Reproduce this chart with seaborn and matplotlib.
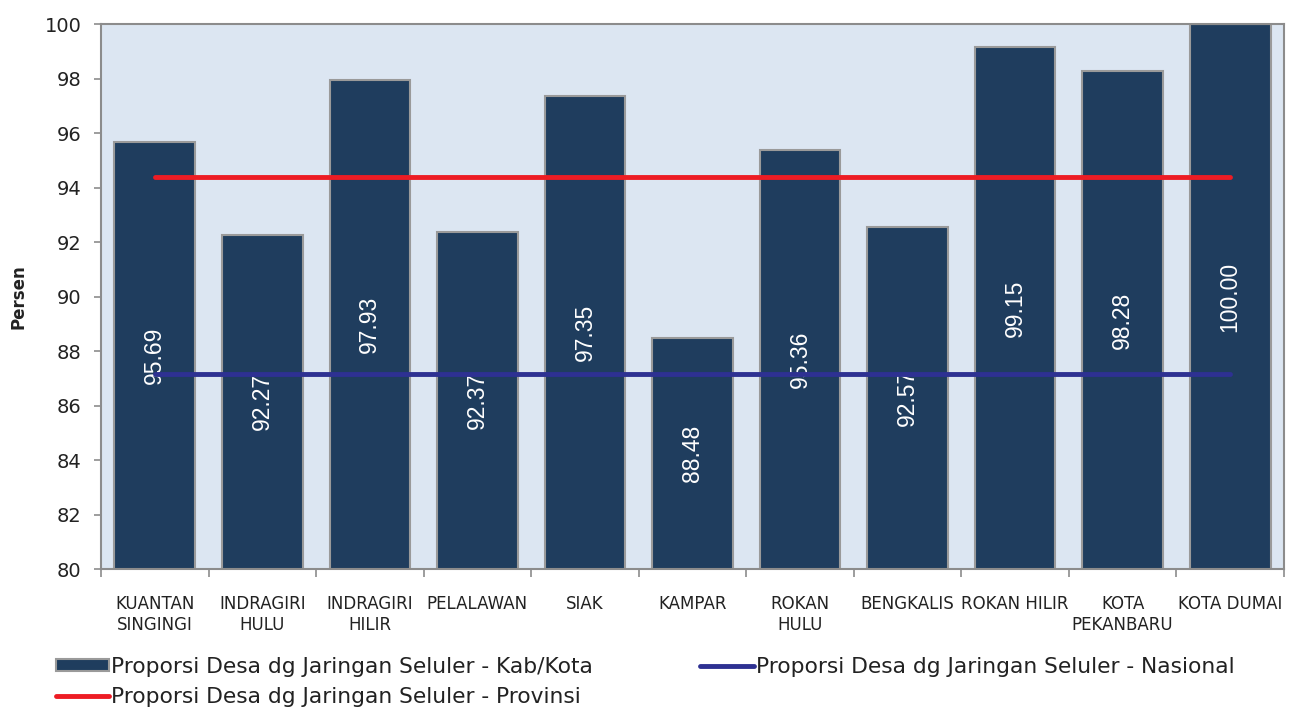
import matplotlib
matplotlib.use("Agg")
import matplotlib.pyplot as plt
import seaborn as sns
import numpy as np
import pandas as pd
from matplotlib.patches import Patch
from matplotlib.lines import Line2D

categories = ["KUANTAN\nSINGINGI", "INDRAGIRI\nHULU", "INDRAGIRI\nHILIR", "PELALAWAN",
              "SIAK", "KAMPAR", "ROKAN\nHULU", "BENGKALIS", "ROKAN HILIR",
              "KOTA\nPEKANBARU", "KOTA DUMAI"]
values = [95.69, 92.27, 97.93, 92.37, 97.35, 88.48, 95.36, 92.57, 99.15, 98.28, 100.00]
provinsi = 94.39
nasional = 87.14
yticks = [80, 82, 84, 86, 88, 90, 92, 94, 96, 98, 100]

label_bar = "Proporsi Desa dg Jaringan Seluler - Kab/Kota"
label_prov = "Proporsi Desa dg Jaringan Seluler - Provinsi"
label_nas = "Proporsi Desa dg Jaringan Seluler - Nasional"

sns.set_theme(style="white")
plt.rcParams["font.family"] = ["DejaVu Sans"]

BAR = "#1F3D5E"
EDGE = "#9A9A9A"
BG = "#DCE6F2"
RED = "#ED1C24"
BLUE = "#2E3192"
TXT = "#222222"

fig = plt.figure(figsize=(12.98, 7.08), dpi=100)
ax = fig.add_axes([0.0778, 0.1963, 0.9114, 0.7697])
ax.set_facecolor(BG)

df = pd.DataFrame({"cat": categories, "val": values})
sns.barplot(data=df, x="cat", y="val", color=BAR, saturation=1, width=0.75,
            edgecolor=EDGE, linewidth=1.5, ax=ax, zorder=2)

xs = np.arange(len(categories))
ax.set_ylim(80, 100)
ax.set_xlim(-0.5, len(categories) - 0.5)

for i, v in enumerate(values):
    ax.text(i, (80 + v) / 2, f"{v:.2f}", rotation=90, ha="center", va="center",
            color="white", fontsize=16.5, family=["Liberation Sans", "DejaVu Sans"],
            zorder=3)

ax.plot(xs, [provinsi] * len(xs), color=RED, lw=3.5, solid_capstyle="round", zorder=4)
ax.plot(xs, [nasional] * len(xs), color=BLUE, lw=3.5, solid_capstyle="round", zorder=4)

for s in ax.spines.values():
    s.set_color("#8C8C8C")
    s.set_linewidth(1.5)
    s.set_visible(True)

ax.set_yticks(yticks)
ax.set_yticklabels([str(t) for t in yticks], fontsize=14, color=TXT)
ax.tick_params(axis="y", which="major", direction="out", length=5, width=1.2,
               color="#8C8C8C", pad=9, left=True)

ax.set_xticks(np.arange(-0.5, len(categories), 1.0))
ax.set_xticklabels([])
ax.set_xticks(xs, minor=True)
ax.set_xticklabels(categories, minor=True, fontsize=12, color=TXT, linespacing=1.2)
ax.tick_params(axis="x", which="major", direction="out", length=6, width=1.2,
               color="#8C8C8C", bottom=True)
ax.tick_params(axis="x", which="minor", length=0, pad=19, bottom=True)

ax.set_xlabel("")
ax.set_ylabel("Persen", fontsize=12, fontweight="bold", color=TXT, labelpad=12)

handles = [
    Patch(facecolor=BAR, edgecolor=EDGE, linewidth=1.5),
    Line2D([0], [0], color=RED, lw=3.5, solid_capstyle="round"),
    Line2D([0], [0], color=BLUE, lw=3.5, solid_capstyle="round"),
]
labels = [label_bar, label_prov, label_nas]
fig.legend(handles, labels, loc="upper left", bbox_to_anchor=(0.043, 0.072),
           ncol=2, frameon=False, fontsize=15.7, handlelength=2.45, handleheight=0.45,
           handletextpad=0.1, columnspacing=4.9, labelspacing=0.45, borderpad=0,
           borderaxespad=0, labelcolor=TXT)

fig.savefig("out.png", dpi=100)
